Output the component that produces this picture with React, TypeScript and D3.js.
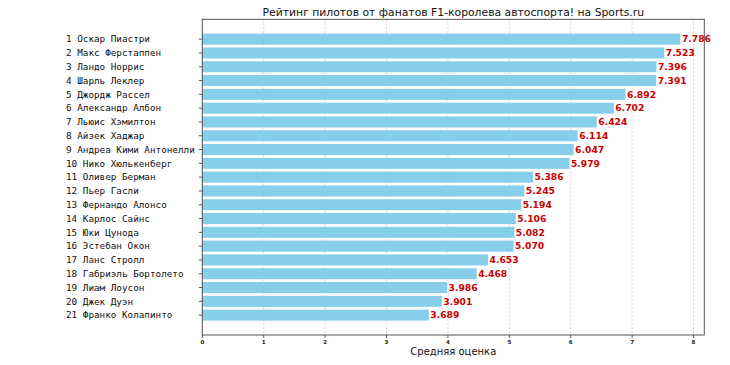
import React, { useEffect, useRef } from 'react';
import * as d3 from 'd3';

const drivers = [
  'Оскар Пиастри',
  'Макс Ферстаппен',
  'Ландо Норрис',
  'Шарль Леклер',
  'Джордж Рассел',
  'Александр Албон',
  'Льюис Хэмилтон',
  'Айзек Хаджар',
  'Андреа Кими Антонелли',
  'Нико Хюлькенберг',
  'Оливер Берман',
  'Пьер Гасли',
  'Фернандо Алонсо',
  'Карлос Сайнс',
  'Юки Цунода',
  'Эстебан Окон',
  'Ланс Стролл',
  'Габриэль Бортолето',
  'Лиам Лоусон',
  'Джек Дуэн',
  'Франко Колапинто',
];

const scores = [
  7.786, 7.523, 7.396, 7.391, 6.892, 6.702, 6.424, 6.114, 6.047, 5.979,
  5.386, 5.245, 5.194, 5.106, 5.082, 5.07, 4.653, 4.468, 3.986, 3.901, 3.689,
];

const xTicks = [0, 1, 2, 3, 4, 5, 6, 7, 8];

const title = 'Рейтинг пилотов от фанатов F1-королева автоспорта! на Sports.ru';
const xTitle = 'Средняя оценка';

const App = () => {
  const ref = useRef<SVGSVGElement>(null);

  useEffect(() => {
    document.body.style.margin = '0';
    const svg = d3.select(ref.current);
    svg.selectAll('*').remove();

    const left = 202.3;
    const right = 704.3;
    const top = 19.3;
    const bottom = 335;

    const x = d3.scaleLinear()
        .domain([0, d3.max(scores) * 1.05])
        .range([left, right]);
    // matplotlib-style category scale with 5% margins
    const y = d3.scaleLinear()
        .domain([-1.44, drivers.length - 1 + 1.44])
        .range([top, bottom]);
    const barH = y(0.8) - y(0);

    // grid
    svg.append('g')
        .selectAll('line')
        .data(xTicks)
        .enter()
        .append('line')
        .attr('x1', (d) => x(d))
        .attr('x2', (d) => x(d))
        .attr('y1', top)
        .attr('y2', bottom)
        .style('stroke', '#b0b0b0')
        .style('stroke-width', 0.8)
        .style('stroke-dasharray', '2,2')
        .style('opacity', 0.7);

    // bars
    svg.append('g')
        .selectAll('rect')
        .data(scores)
        .enter()
        .append('rect')
        .attr('x', x(0))
        .attr('y', (d, i) => y(i) - barH / 2)
        .attr('width', (d) => x(d) - x(0))
        .attr('height', barH)
        .style('fill', '#87ceeb');

    // value labels
    svg.append('g')
        .selectAll('text')
        .data(scores)
        .enter()
        .append('text')
        .attr('x', (d) => x(d) + 1.5)
        .attr('y', (d, i) => y(i))
        .attr('dy', '0.35em')
        .text((d) => d.toFixed(3))
        .style('font-family', 'DejaVu Sans')
        .style('font-weight', 'bold')
        .style('font-size', '9.2px')
        .style('fill', '#cc0000');

    // frame
    svg.append('rect')
        .attr('x', left)
        .attr('y', top)
        .attr('width', right - left)
        .attr('height', bottom - top)
        .style('fill', 'none')
        .style('stroke', '#555')
        .style('stroke-width', 1);

    // y ticks and labels
    const yAxis = svg.append('g');
    yAxis.selectAll('line')
        .data(drivers)
        .enter()
        .append('line')
        .attr('x1', left - 3.5)
        .attr('x2', left)
        .attr('y1', (d, i) => y(i))
        .attr('y2', (d, i) => y(i))
        .style('stroke', '#333')
        .style('stroke-width', 0.8);
    yAxis.selectAll('text')
        .data(drivers)
        .enter()
        .append('text')
        .attr('x', 66)
        .attr('y', (d, i) => y(i))
        .attr('dy', '0.35em')
        .text((d, i) => `${i + 1} ${d}`)
        .style('font-family', 'DejaVu Sans Mono')
        .style('font-size', '9.3px')
        .style('fill', '#111');

    // x ticks and labels
    const xAxis = svg.append('g');
    xAxis.selectAll('line')
        .data(xTicks)
        .enter()
        .append('line')
        .attr('x1', (d) => x(d))
        .attr('x2', (d) => x(d))
        .attr('y1', bottom)
        .attr('y2', bottom + 3)
        .style('stroke', '#333')
        .style('stroke-width', 0.8);
    xAxis.selectAll('text')
        .data(xTicks)
        .enter()
        .append('text')
        .attr('x', (d) => x(d))
        .attr('y', bottom + 9)
        .text((d) => d)
        .style('text-anchor', 'middle')
        .style('font-family', 'DejaVu Sans')
        .style('font-weight', 'bold')
        .style('font-size', '5.5px')
        .style('fill', '#222');

    svg.append('text')
        .attr('x', (left + right) / 2)
        .attr('y', 355)
        .text(xTitle)
        .style('text-anchor', 'middle')
        .style('font-family', 'DejaVu Sans')
        .style('font-size', '10px')
        .style('fill', '#111');

    svg.append('text')
        .attr('x', (left + right) / 2)
        .attr('y', 15.5)
        .text(title)
        .style('text-anchor', 'middle')
        .style('font-family', 'DejaVu Sans')
        .style('font-size', '10.8px')
        .style('fill', '#111');
  }, []);

  return <svg ref={ref} width={730} height={365} style={{ display: 'block', background: '#fff' }} />;
};

export default App;
